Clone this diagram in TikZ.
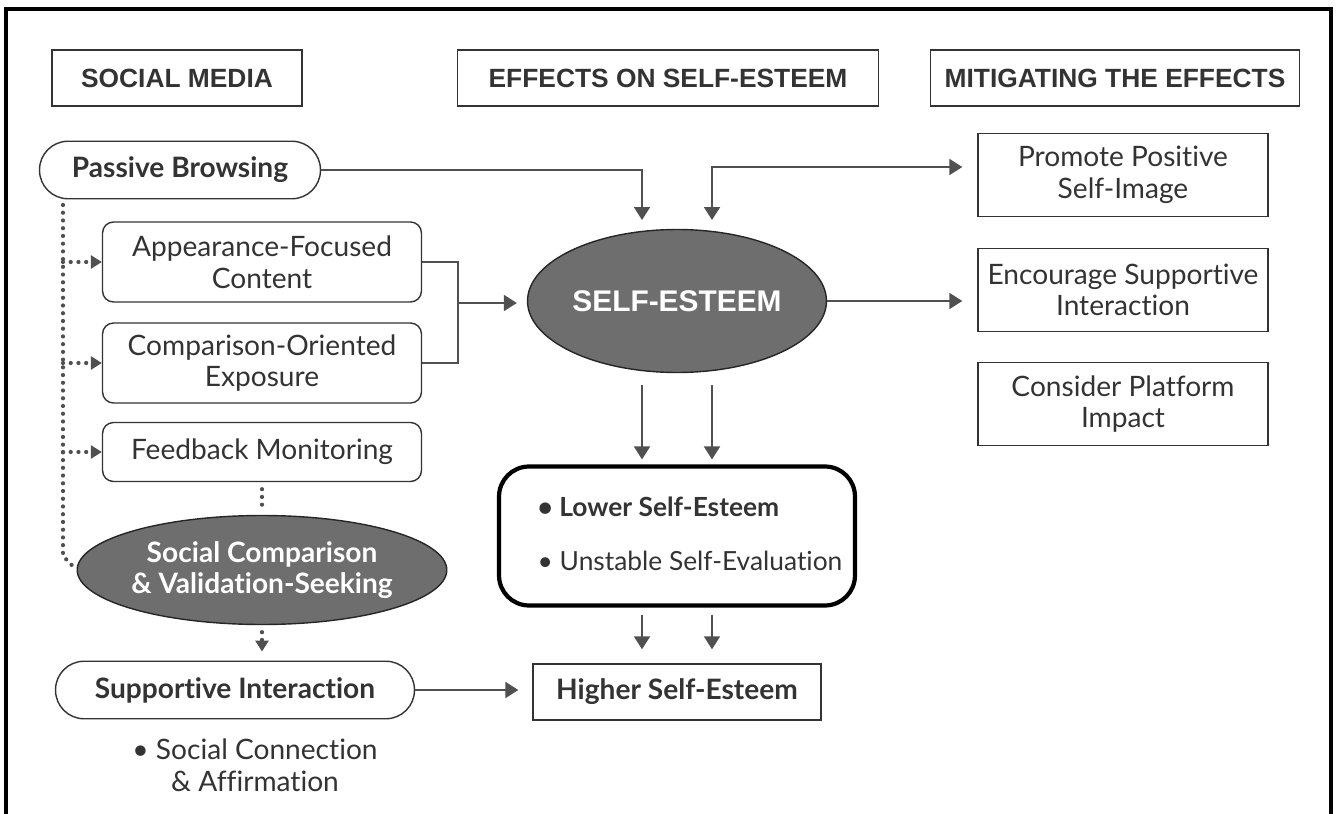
\documentclass[tikz,border=0pt]{standalone}
\usepackage{fontspec}
\setmainfont{Lato}[Ligatures=NoCommon]
\newfontfamily\hdrfont{Liberation Sans}
\usetikzlibrary{arrows.meta,shapes.geometric}
\definecolor{ink}{HTML}{333333}
\definecolor{edge}{HTML}{505050}
\definecolor{blob}{HTML}{6E6E6E}
\newcommand\boxfont{\fontsize{16}{18}\selectfont}

\begin{document}
\begin{tikzpicture}[x=0.02cm,y=-0.02cm,
    hdr/.style={draw=ink,line width=1pt,minimum width=#1,minimum height=1.12cm,inner sep=0pt,text=ink,font=\hdrfont\bfseries\fontsize{15}{18}\selectfont},
    rbox/.style={draw=ink,line width=0.8pt,rounded corners=0.22cm,minimum width=6.38cm,minimum height=1.6cm,inner sep=0pt,align=center,text=ink,font=\boxfont},
    pill/.style={draw=ink,line width=0.8pt,rounded corners=0.57cm,minimum height=1.15cm,inner sep=0pt,text=ink,font=\boxfont\bfseries},
    sqbox/.style={draw=ink,line width=0.8pt,minimum width=5.8cm,minimum height=1.66cm,inner sep=0pt,align=center,text=ink,font=\boxfont},
    blob/.style={ellipse,draw=black!85,line width=0.8pt,fill=blob,text=white,inner sep=0pt,align=center},
    arr/.style={draw=edge,line width=1.1pt,-{Triangle[length=0.26cm,width=0.32cm]}},
    arrboth/.style={arr,{Triangle[length=0.26cm,width=0.32cm]}-{Triangle[length=0.26cm,width=0.32cm]}},
    dots/.style={draw=edge,line width=2.4pt,line cap=round,dash pattern=on 0pt off 4.4pt},
    dotarr/.style={dots,-{Triangle[length=0.22cm,width=0.26cm]}}]
    \useasboundingbox (0,0) rectangle (1336,814);
    \draw[line width=1.8pt] (6,814) -- (6,9) -- (1331,9) -- (1331,814);

    % column heads
    \node[hdr=5cm] (hsocial) at (177,78) {SOCIAL MEDIA};
    \node[hdr=8.42cm] (heffect) at (668,78) {EFFECTS ON SELF-ESTEEM};
    \node[hdr=7.38cm] (hmitig) at (1115,78) {MITIGATING THE EFFECTS};

    % social media side
    \node[pill,minimum width=5.62cm] (passive) at (180,170) {Passive Browsing};
    \node[rbox] (appear) at (262,262) {Appearance-Focused\\Content};
    \node[rbox] (compar) at (262,363) {Comparison-Oriented\\Exposure};
    \node[rbox,minimum height=1.18cm] (feedback) at (262,452) {Feedback Monitoring};
    \node[blob,minimum width=7.38cm,minimum height=2.18cm,font=\fontsize{16}{18}\selectfont\bfseries] (socomp) at (262,570) {Social Comparison\\\& Validation-Seeking};
    \node[pill,minimum width=7.18cm] (support) at (235,690) {Supportive Interaction};
    \node[align=center,text=ink,font=\fontsize{16}{18}\selectfont] (affirm) at (255,765) {• Social Connection\\\& Affirmation};

    % effects
    \node[blob,minimum width=5.98cm,minimum height=2.86cm,font=\hdrfont\bfseries\fontsize{17}{20}\selectfont] (selfe) at (677,301) {SELF-ESTEEM};
    \node[draw=black,line width=2.4pt,rounded corners=0.6cm,minimum width=7.12cm,minimum height=2.78cm] (lower) at (677,536) {};
    \node[align=left,text=ink,font=\fontsize{15}{18}\selectfont] (lowertxt) at (690,534) {{\bfseries• Lower Self-Esteem}\\[13pt]• Unstable Self-Evaluation};
    \node[draw=ink,line width=0.8pt,minimum width=5.76cm,minimum height=1.12cm,text=ink,font=\boxfont\bfseries] (higher) at (677,692) {Higher Self-Esteem};

    % mitigation
    \node[sqbox] (promote) at (1123,175) {Promote Positive\\Self-Image};
    \node[sqbox] (encour) at (1123,290) {Encourage Supportive\\Interaction};
    \node[sqbox] (consider) at (1123,404) {Consider Platform\\Impact};

    \coordinate (inL) at (642,220);
    \coordinate (inR) at (712,220);
    \coordinate (jn) at (458,303);
    \coordinate (trk) at (63,205);

    \draw[arr] (passive.east) -| (inL);
    \draw[arrboth,shorten >=0.3cm] (inR) |- ([yshift=0.16cm]promote.west);
    \draw[draw=edge,line width=1.1pt] (appear.east) -| (jn) |- (compar.east);
    \draw[arr,shorten >=0.2cm] (jn) -- (jn -| selfe.west);
    \draw[arr,shorten >=0.3cm] (selfe.east) -- (selfe.east -| encour.west);
    \foreach \s in {-0.7cm,0.7cm}{
        \draw[arr,shorten <=0.24cm,shorten >=0.1cm] ([xshift=\s]selfe.south) -- ([xshift=\s]lower.north);
        \draw[arr,shorten <=0.14cm,shorten >=0.28cm] ([xshift=\s]lower.south) -- ([xshift=\s]higher.north);
    }
    \draw[arr,shorten >=0.28cm] (support.east) -- (support.east -| higher.west);

    % dotted feeds
    \draw[dots] (trk) -- (trk |- 0,556) -- (socomp.west);
    \foreach \n in {appear,compar,feedback}
        \draw[dotarr] (trk |- \n.west) -- (\n.west);
    \draw[dots,shorten <=0.14cm,shorten >=0.1cm] (feedback.south) -- (socomp.north);
    \draw[dotarr,shorten <=0.14cm,shorten >=0.18cm] (socomp.south) -- (socomp.south |- support.north);
\end{tikzpicture}
\end{document}
